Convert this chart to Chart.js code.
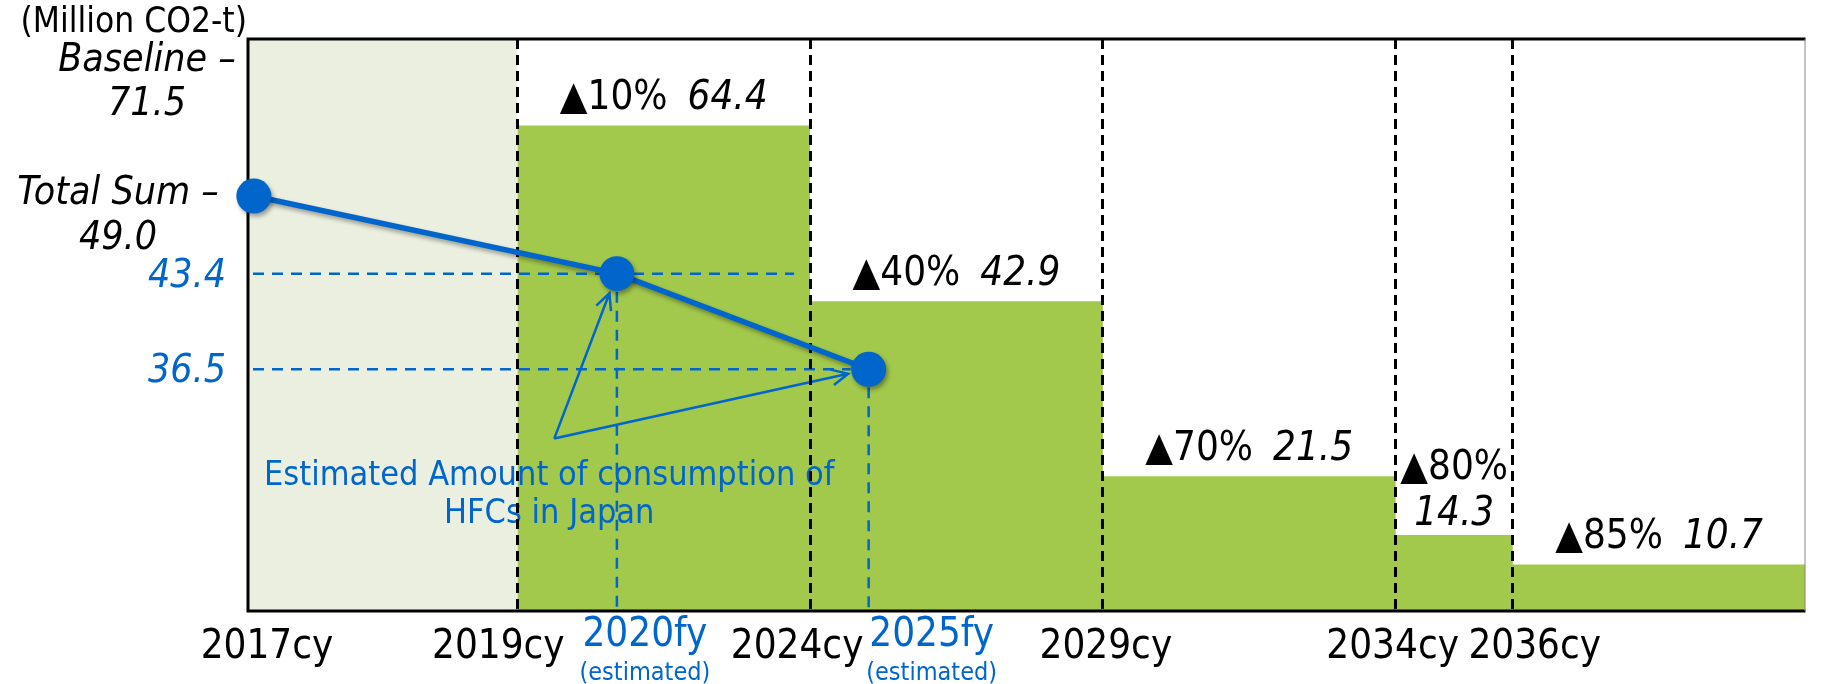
<!DOCTYPE html>
<html>
<head>
<meta charset="utf-8">
<script src="https://cdn.jsdelivr.net/npm/chart.js@4.4.1/dist/chart.umd.min.js"></script>
<style>
  html, body { margin: 0; padding: 0; background: #fff; }
  #wrap { width: 1823px; height: 684px; }
</style>
</head>
<body>
<div id="wrap"><canvas id="grafico" width="1823" height="684"></canvas></div>
<script>
// phase-down schedule (caps per period, million CO2-t)
const periodLabels = ["2017cy", "2019cy", "2024cy", "2029cy", "2034cy", "2036cy"];
const periodYears = [2017, 2019, 2024, 2029, 2034, 2036];
const endYear = 2041;
const cutPercent = ["", "▲10%", "▲40%", "▲70%", "▲80%", "▲85%"];
const capValues = [71.5, 64.4, 42.9, 21.5, 14.3, 10.7];

// estimated consumption of HFCs in Japan
const estLabels = ["", "2020fy", "2025fy"];
const estYears = [2017, 2020.7, 2025];
const estValues = [49.0, 43.4, 36.5];

const FONT = '"DejaVu Sans Condensed", "DejaVu Sans", sans-serif';
const AZUL = "#0066CC";
const VERDE = "#A2C84C";
const FONDO_BASE = "#EBEFDF";

// the baseline period is drawn wider than the rest of the timeline
function timeX(year) {
  if (year < 2019) return 2019 - (2019 - year) * 2.25;
  return year;
}

const xMin = timeX(2017) - 0.1;
const yMin = 5, yMax = 75;           // cap axis (original is not drawn to scale)
const y2Min = 19.06, y2Max = 60.33;  // axis of the estimated line

const capPoints = periodYears.slice(1).map((yr, i) => ({ x: timeX(yr), y: capValues[i + 1] }));
capPoints.push({ x: endYear, y: capValues[capValues.length - 1] });
const basePoints = [{ x: xMin, y: yMax }, { x: timeX(2019), y: yMax }];
const estPoints = estYears.map((yr, i) => ({ x: timeX(yr), y: estValues[i] }));

// position of the arrow tail of the note (x in years, y in y2 units)
const notaAncla = { x: 2019.63, y: 31.5 };
// small nudges of the axis labels, as in the original
const nudgeCy = [19, -19, -13, 3, -3, 22];
const nudgeFy = [0, 28, 63];

function texto(ctx, str, x, y, size, opts = {}) {
  ctx.font = (opts.italic ? "italic " : "") + size + "px " + FONT;
  ctx.fillStyle = opts.color || "#000";
  ctx.textAlign = opts.align || "center";
  ctx.textBaseline = "middle";
  ctx.fillText(str, x, y);
}

function flecha(ctx, x0, y0, x1, y1) {
  const ang = Math.atan2(y1 - y0, x1 - x0);
  const L = 18, a = 0.45;
  ctx.beginPath();
  ctx.moveTo(x0, y0);
  ctx.lineTo(x1, y1);
  ctx.moveTo(x1 - L * Math.cos(ang - a), y1 - L * Math.sin(ang - a));
  ctx.lineTo(x1, y1);
  ctx.lineTo(x1 - L * Math.cos(ang + a), y1 - L * Math.sin(ang + a));
  ctx.stroke();
}

const dibujos = {
  id: "dibujos",
  beforeDraw(chart) {
    const { ctx, chartArea: area } = chart;
    const { x, y2 } = chart.scales;
    const pts = chart.getDatasetMeta(0).data;
    ctx.save();

    // frame
    ctx.strokeStyle = "#000";
    ctx.lineWidth = 3;
    ctx.beginPath();
    ctx.moveTo(area.right, area.top);
    ctx.lineTo(area.left, area.top);
    ctx.lineTo(area.left, area.bottom);
    ctx.lineTo(area.right, area.bottom);
    ctx.stroke();
    ctx.strokeStyle = "#888";
    ctx.lineWidth = 1;
    ctx.beginPath();
    ctx.moveTo(area.right - 0.5, area.top);
    ctx.lineTo(area.right - 0.5, area.bottom);
    ctx.stroke();

    // note text
    const tx = x.getPixelForValue(notaAncla.x);
    const ty = y2.getPixelForValue(notaAncla.y);
    texto(ctx, "Estimated Amount of consumption of", tx - 5, ty + 38, 34, { color: AZUL });
    texto(ctx, "HFCs in Japan", tx - 5, ty + 76, 34, { color: AZUL });

    // blue guide lines
    ctx.strokeStyle = AZUL;
    ctx.lineWidth = 2.5;
    ctx.setLineDash([11, 8]);
    for (let i = 1; i < pts.length; i++) {
      const p = pts[i];
      const fin = i === 1 ? x.getPixelForValue(timeX(2024)) - 16 : p.x - 18;
      ctx.beginPath();
      ctx.moveTo(area.left + 5, p.y);
      ctx.lineTo(fin, p.y);
      ctx.moveTo(p.x, p.y + 18);
      ctx.lineTo(p.x, area.bottom);
      ctx.stroke();
    }

    // arrows
    ctx.setLineDash([]);
    ctx.lineWidth = 2.5;
    for (let i = 1; i < pts.length; i++) {
      const p = pts[i];
      const d = Math.hypot(p.x - tx, p.y - ty);
      const k = (d - 21) / d;
      flecha(ctx, tx, ty, tx + (p.x - tx) * k, ty + (p.y - ty) * k);
    }
    ctx.restore();
  },
  beforeDatasetDraw(chart, args) {
    if (args.index !== 0) return;
    const ctx = chart.ctx;
    ctx.save();
    ctx.shadowColor = "rgba(0,0,0,0.35)";
    ctx.shadowBlur = 4;
    ctx.shadowOffsetX = 2;
    ctx.shadowOffsetY = 3;
  },
  afterDatasetDraw(chart, args) {
    if (args.index !== 0) return;
    chart.ctx.restore();
  },
  afterDraw(chart) {
    const { ctx, chartArea: area } = chart;
    const { x, y, y2 } = chart.scales;
    const pts = chart.getDatasetMeta(0).data;
    ctx.save();

    // unit and left labels
    texto(ctx, "(Million CO2-t)", 247, 23, 35, { align: "right" });
    const yb = y.getPixelForValue(capValues[0]) - 7;
    texto(ctx, "Baseline –", 147, yb, 39, { italic: true });
    texto(ctx, capValues[0].toFixed(1), 147, yb + 44.5, 39, { italic: true });
    const yt = y2.getPixelForValue(estValues[0]) - 2;
    texto(ctx, "Total Sum –", 118, yt, 39, { italic: true });
    texto(ctx, estValues[0].toFixed(1), 118, yt + 44.5, 39, { italic: true });
    for (let i = 1; i < estValues.length; i++) {
      texto(ctx, estValues[i].toFixed(1), 226, y2.getPixelForValue(estValues[i]) + 3, 39,
        { italic: true, color: AZUL, align: "right" });
    }

    // period labels under the axis
    periodYears.forEach((yr, i) => {
      const px = i === 0 ? area.left : x.getPixelForValue(timeX(yr));
      texto(ctx, periodLabels[i], px + nudgeCy[i], 648, 40);
    });
    for (let i = 1; i < estLabels.length; i++) {
      const px = pts[i].x + nudgeFy[i];
      texto(ctx, estLabels[i], px, 635.5, 40, { color: AZUL });
      texto(ctx, "(estimated)", px, 673, 25, { color: AZUL });
    }

    // cap labels above each step
    for (let i = 1; i < periodYears.length; i++) {
      const x0 = x.getPixelForValue(timeX(periodYears[i]));
      const x1 = x.getPixelForValue(i < periodYears.length - 1 ? timeX(periodYears[i + 1]) : endYear);
      const cx = (x0 + x1) / 2;
      const top = y.getPixelForValue(capValues[i]);
      const val = capValues[i].toFixed(1);
      ctx.font = "40px " + FONT;
      const w1 = ctx.measureText(cutPercent[i]).width;
      ctx.font = "italic 40px " + FONT;
      const w2 = ctx.measureText(val).width;
      const gap = 20;
      if (w1 + gap + w2 > x1 - x0 - 6) {
        texto(ctx, cutPercent[i], cx, top - 66, 40);
        texto(ctx, val, cx, top - 20, 40, { italic: true });
      } else {
        const start = cx - (w1 + gap + w2) / 2;
        texto(ctx, cutPercent[i], start, top - 27, 40, { align: "left" });
        texto(ctx, val, start + w1 + gap, top - 27, 40, { italic: true, align: "left" });
      }
    }
    ctx.restore();
  }
};

new Chart(document.getElementById("grafico"), {
  type: "line",
  data: {
    datasets: [
      {
        label: "Estimated Amount of consumption of HFCs in Japan",
        data: estPoints,
        yAxisID: "y2",
        borderColor: AZUL,
        borderWidth: 5.5,
        pointRadius: 17.5,
        pointHoverRadius: 17.5,
        pointBackgroundColor: AZUL,
        pointBorderWidth: 0,
        fill: false,
        clip: false,
      },
      {
        label: "Cap",
        data: capPoints,
        yAxisID: "y",
        stepped: true,
        fill: "start",
        backgroundColor: VERDE,
        borderColor: "transparent",
        borderWidth: 0,
        pointRadius: 0,
      },
      {
        label: "Baseline",
        data: basePoints,
        yAxisID: "y",
        fill: "start",
        backgroundColor: FONDO_BASE,
        borderColor: "transparent",
        borderWidth: 0,
        pointRadius: 0,
      },
    ],
  },
  options: {
    responsive: false,
    animation: false,
    events: [],
    layout: { padding: { left: 248, top: 39, right: 1, bottom: 73 } },
    scales: {
      x: {
        type: "linear",
        min: xMin,
        max: endYear,
        afterBuildTicks: (scale) => {
          scale.ticks = periodYears.slice(1).map((yr) => ({ value: timeX(yr) }));
        },
        ticks: { display: false },
        grid: { color: "#000", lineWidth: 3, drawTicks: false },
        border: { display: false, dash: [10, 6] },
      },
      y: { type: "linear", min: yMin, max: yMax, display: false },
      y2: { type: "linear", min: y2Min, max: y2Max, display: false },
    },
    plugins: {
      legend: { display: false },
      tooltip: { enabled: false },
      filler: { drawTime: "beforeDraw" },
    },
  },
  plugins: [dibujos],
});
</script>
</body>
</html>
